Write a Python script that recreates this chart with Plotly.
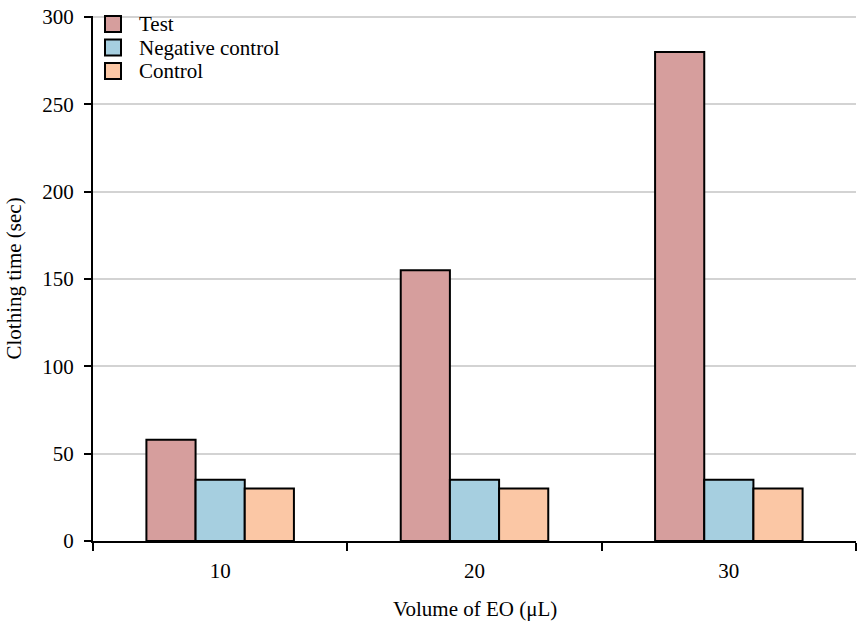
import plotly.graph_objects as go

# volumes of EO (uL) on the x axis
volumes = ["10", "20", "30"]

# clothing time (sec) per group
test_times = [58, 155, 280]
negative_control_times = [35, 35, 35]
control_times = [30, 30, 30]

series_names = ["Test", "Negative control", "Control"]
series_colors = ["#D69E9D", "#A6CFE0", "#FBC7A5"]

fig = go.Figure()
for name, vals, col in zip(series_names,
                           [test_times, negative_control_times, control_times],
                           series_colors):
    fig.add_trace(go.Bar(
        x=volumes, y=vals, name=name,
        marker=dict(color=col, line=dict(color="black", width=2)),
    ))

font_family = "Liberation Serif, Times New Roman, serif"
fs = 21

m_l, m_r, m_t, m_b = 93, 8, 16, 87
plot_w = 864 - m_l - m_r
plot_h = 628 - m_t - m_b


def px_x(px):
    return (px - m_l) / plot_w


def px_y(py):
    return 1 - (py - m_t) / plot_h


# legend drawn by hand so the rows sit as tight as in the original
box = 16
row_step = 23.5
first_row = 24
for i, (name, col) in enumerate(zip(series_names, series_colors)):
    cy = first_row + i * row_step
    fig.add_shape(type="rect", xref="paper", yref="paper",
                  x0=px_x(105), x1=px_x(105 + box),
                  y0=px_y(cy + box / 2), y1=px_y(cy - box / 2),
                  fillcolor=col, line=dict(color="black", width=2))
    fig.add_annotation(xref="paper", yref="paper",
                       x=px_x(137), y=px_y(cy),
                       xanchor="left", yanchor="middle", showarrow=False,
                       text=name, font=dict(family=font_family, size=fs))

# axis titles as annotations (standoff is ignored without automargin)
fig.add_annotation(xref="paper", yref="paper", x=0.5, y=px_y(609),
                   xanchor="center", yanchor="middle", showarrow=False,
                   text="Volume of EO (μL)", font=dict(family=font_family, size=fs))
fig.add_annotation(xref="paper", yref="paper", x=px_x(13), y=0.5,
                   xanchor="center", yanchor="middle", showarrow=False,
                   textangle=-90,
                   text="Clothing time (sec)", font=dict(family=font_family, size=fs))

fig.update_layout(
    width=864, height=628,
    margin=dict(l=m_l, r=m_r, t=m_t, b=m_b, autoexpand=False),
    barmode="group",
    bargap=0.42,
    bargroupgap=0,
    plot_bgcolor="white",
    paper_bgcolor="white",
    font=dict(family=font_family, size=fs, color="black"),
    showlegend=False,
)

fig.update_xaxes(
    type="category",
    tickson="boundaries",
    ticks="outside", ticklen=8, tickwidth=2, tickcolor="black",
    tickfont=dict(family=font_family, size=fs),
    ticklabelstandoff=10,
    showline=True, linecolor="black", linewidth=2,
    showgrid=False,
    automargin=False,
)

fig.update_yaxes(
    range=[0, 300.6],
    tickvals=[0, 50, 100, 150, 200, 250, 300],
    ticks="outside", ticklen=7, tickwidth=2, tickcolor="black",
    tickfont=dict(family=font_family, size=fs),
    ticklabelstandoff=6,
    ticklabeloverflow="allow",
    showline=True, linecolor="black", linewidth=2,
    showgrid=True, gridcolor="#D3D3D3", gridwidth=2,
    zeroline=False,
    automargin=False,
)

# drop the browser's default 8px body margin so the figure sits at 0,0
fig.write_html("out.html", config={"displayModeBar": False},
               post_script="document.body.style.margin='0';")
